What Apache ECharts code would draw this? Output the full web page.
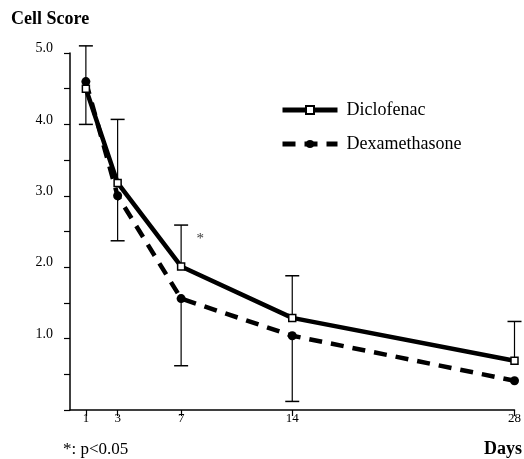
<!DOCTYPE html>
<html><head><meta charset="utf-8">
<script src="https://cdn.jsdelivr.net/npm/echarts@6/dist/echarts.min.js"></script>
<style>html,body{margin:0;padding:0;background:#fff}#c{width:524px;height:459px}</style>
</head><body><div id="c"></div>
<script>
var days = [1, 3, 7, 14, 28];
var diclofenac = [4.5, 3.18, 2.01, 1.29, 0.69];
var dexamethasone = [4.6, 3.0, 1.56, 1.04, 0.41];
var diclofenacErrHigh = [5.1, 4.07, 2.59, 1.88, 1.24];
var dexamethasoneErrLow = [4.0, 2.37, 0.62, 0.12, null];
var yTickValues = [1, 2, 3, 4, 5];
var significance = [[8.2, 2.4, '*']];

var F = 'Liberation Serif, Times New Roman, serif';
function pairs(ys){ return days.map(function(d,i){ return [d, ys[i]]; }); }
function errData(means, ends){
  var out = [];
  days.forEach(function(d,i){ if (ends[i] != null) out.push([d, means[i], ends[i]]); });
  return out;
}
function renderErr(params, api){
  var p0 = api.coord([api.value(0), api.value(1)]);
  var p1 = api.coord([api.value(0), api.value(2)]);
  var hw = 7;
  return {type:'group', children:[
    {type:'line', shape:{x1:p0[0], y1:p0[1], x2:p1[0], y2:p1[1]}, style:{stroke:'#000', lineWidth:1.2}},
    {type:'line', shape:{x1:p1[0]-hw, y1:p1[1], x2:p1[0]+hw, y2:p1[1]}, style:{stroke:'#000', lineWidth:1.5}}
  ]};
}
var chart = echarts.init(document.getElementById('c'), null, {renderer:'canvas'});
chart.setOption({
  animation:false,
  backgroundColor:'#fff',
  grid:{left:70, right:1, top:53, bottom:49},
  title:[
    {text:'Cell Score', left:6, top:5, textStyle:{fontFamily:F, fontWeight:'bold', fontSize:18, color:'#000'}},
    {text:'Days', right:-3, top:435, textStyle:{fontFamily:F, fontWeight:'bold', fontSize:18, color:'#000'}},
    {text:'*: p<0.05', left:58, top:436, textStyle:{fontFamily:F, fontWeight:'normal', fontSize:17, color:'#000'}}
  ],
  legend:{
    orient:'vertical', left:275, top:96, itemGap:16, itemWidth:55, itemHeight:10,
    lineStyle:{width:5},
    textStyle:{fontFamily:F, fontSize:18, color:'#000', padding:[0,0,0,4]},
    data:['Diclofenac','Dexamethasone']
  },
  xAxis:{
    type:'value', min:0, max:28,
    splitLine:{show:false},
    axisLine:{lineStyle:{color:'#000', width:1.5}},
    axisTick:{customValues:days, length:6, lineStyle:{color:'#000', width:1.2}},
    axisLabel:{customValues:days, fontFamily:F, fontSize:13, color:'#000', margin:2}
  },
  yAxis:{
    type:'value', min:0, max:5, interval:1,
    splitLine:{show:false},
    axisLine:{show:true, lineStyle:{color:'#000', width:1.5}},
    axisTick:{show:true, length:6, lineStyle:{color:'#000', width:1.2}},
    minorTick:{show:true, splitNumber:2, length:6, lineStyle:{color:'#000', width:1.2}},
    axisLabel:{customValues:yTickValues, fontFamily:F, fontSize:14, color:'#000', margin:17,
      verticalAlign:'bottom', lineHeight:9,
      formatter:function(v){ return v.toFixed(1); }}
  },
  series:[
    {type:'custom', name:'errD', renderItem:renderErr, data:errData(diclofenac, diclofenacErrHigh), clip:false, silent:true, z:1},
    {type:'custom', name:'errX', renderItem:renderErr, data:errData(dexamethasone, dexamethasoneErrLow), clip:false, silent:true, z:1},
    {type:'line', name:'Diclofenac', data:pairs(diclofenac), symbol:'rect', symbolSize:7,
      itemStyle:{color:'#fff', borderColor:'#000', borderWidth:1.5},
      lineStyle:{color:'#000', width:4.5}, z:3},
    {type:'line', name:'Dexamethasone', data:pairs(dexamethasone), symbol:'circle', symbolSize:9,
      itemStyle:{color:'#000'},
      lineStyle:{color:'#000', width:4.5, type:[13,9]}, z:2},
    {type:'scatter', name:'sig', data:significance, symbolSize:0, silent:true,
      label:{show:true, position:'inside', formatter:function(p){ return p.value[2]; }, fontFamily:F, fontSize:15, color:'#000'}}
  ]
});
</script></body></html>
